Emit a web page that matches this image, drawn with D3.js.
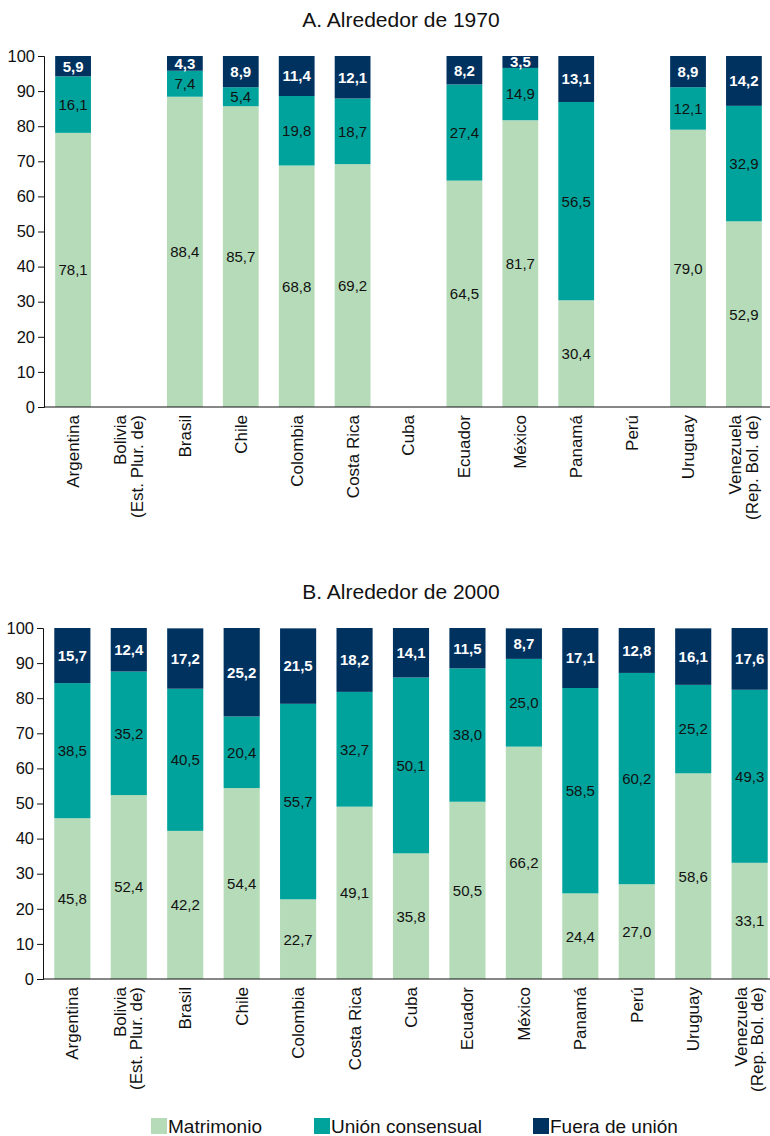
<!doctype html>
<meta charset="utf8">
<style>
  body { margin: 0; background: #fff; font-family: "Liberation Sans", Arial, sans-serif; }
  svg text { font-family: "Liberation Sans", Arial, sans-serif; }
</style>
<body>
<div id="chart"></div>
<script src="https://cdn.jsdelivr.net/npm/d3@7"></script>
<script>
(function() {

const countries = [
  ["Argentina"], ["Bolivia", "(Est. Plur. de)"], ["Brasil"], ["Chile"], ["Colombia"],
  ["Costa Rica"], ["Cuba"], ["Ecuador"], ["México"], ["Panamá"], ["Perú"], ["Uruguay"],
  ["Venezuela", "(Rep. Bol. de)"]
];
const seriesNames = ["Matrimonio", "Unión consensual", "Fuera de unión"];
const colors = ["#b5dbb8", "#00a39c", "#00325f"];
const yTicks = [0, 10, 20, 30, 40, 50, 60, 70, 80, 90, 100];

// null = no data for that country
const matrimonio1970 = [78.1, null, 88.4, 85.7, 68.8, 69.2, null, 64.5, 81.7, 30.4, null, 79.0, 52.9];
const consensual1970 = [16.1, null, 7.4, 5.4, 19.8, 18.7, null, 27.4, 14.9, 56.5, null, 12.1, 32.9];
const fuera1970 = [5.9, null, 4.3, 8.9, 11.4, 12.1, null, 8.2, 3.5, 13.1, null, 8.9, 14.2];

const matrimonio2000 = [45.8, 52.4, 42.2, 54.4, 22.7, 49.1, 35.8, 50.5, 66.2, 24.4, 27.0, 58.6, 33.1];
const consensual2000 = [38.5, 35.2, 40.5, 20.4, 55.7, 32.7, 50.1, 38.0, 25.0, 58.5, 60.2, 25.2, 49.3];
const fuera2000 = [15.7, 12.4, 17.2, 25.2, 21.5, 18.2, 14.1, 11.5, 8.7, 17.1, 12.8, 16.1, 17.6];

const W = 770, H = 1136;
const svg = d3.select("#chart").append("svg").attr("width", W).attr("height", H);
const fmt = v => v.toFixed(1).replace(".", ",");

function panel(title, top, left, right, series) {
  const y0 = top + 351, y1 = top;
  const x = d3.scaleBand().domain(d3.range(countries.length)).range([left, right]).paddingInner(0.36).paddingOuter(0.2);
  const y = d3.scaleLinear().domain([0, 100]).range([y0, y1]);
  const g = svg.append("g");

  g.append("text").attr("x", 401).attr("y", top - 29).attr("text-anchor", "middle")
    .attr("font-size", 21).attr("fill", "#111").text(title);

  const rows = countries.map((c, i) => ({ i, m: series[0][i], c: series[1][i], f: series[2][i] }))
    .filter(d => d.m != null);
  const stack = d3.stack().keys(["m", "c", "f"])(rows);

  stack.forEach((layer, k) => {
    const lg = g.append("g");
    lg.selectAll("rect").data(layer).join("rect")
      .attr("x", d => x(d.data.i))
      .attr("width", x.bandwidth())
      .attr("y", d => y(Math.min(d[1], 100)))
      .attr("height", d => y(d[0]) - y(Math.min(d[1], 100)))
      .attr("fill", colors[k]);
    lg.selectAll("text").data(layer).join("text")
      .attr("x", d => x(d.data.i) + x.bandwidth() / 2)
      .attr("y", d => y((d[0] + Math.min(d[1], 100)) / 2))
      .attr("dy", "0.36em")
      .attr("text-anchor", "middle")
      .attr("font-size", 15)
      .attr("font-weight", k === 2 ? "bold" : "normal")
      .attr("fill", k === 2 ? "#fff" : "#111")
      .text(d => fmt(d[1] - d[0]));
  });

  const yAxis = d3.axisLeft(y).tickValues(yTicks).tickSize(6).tickPadding(3);
  g.append("g").attr("transform", `translate(${left},0)`).call(yAxis)
    .call(a => a.selectAll("text").attr("font-size", 16.5).attr("fill", "#111"))
    .call(a => a.selectAll("line, path").attr("stroke", "#111"));

  g.append("line").attr("x1", left).attr("x2", W).attr("y1", y0).attr("y2", y0)
    .attr("stroke", "#111").attr("stroke-width", 1.2);

  countries.forEach((lines, i) => {
    const cx = x(i) + x.bandwidth() / 2;
    const n = lines.length;
    const t = g.append("text")
      .attr("transform", `translate(${cx},${y0 + 8}) rotate(-90)`)
      .attr("text-anchor", "end")
      .attr("font-size", 17)
      .attr("fill", "#111");
    lines.forEach((s, j) => {
      t.append("tspan").attr("x", 0)
        .attr("dy", j === 0 ? `${0.35 - (n - 1) * 0.5}em` : "0.95em")
        .text(s);
    });
  });
}

panel("A. Alrededor de 1970", 56, 44, 773, [matrimonio1970, consensual1970, fuera1970]);
panel("B. Alrededor de 2000", 628, 43, 779, [matrimonio2000, consensual2000, fuera2000]);

// legend
const legendX = [151, 314, 533];
const lg = svg.append("g");
seriesNames.forEach((name, k) => {
  lg.append("rect").attr("x", legendX[k]).attr("y", 1118).attr("width", 16).attr("height", 16).attr("fill", colors[k]);
  lg.append("text").attr("x", legendX[k] + 17).attr("y", 1133).attr("font-size", 19).attr("fill", "#111").text(name);
});

})();
</script>
</body>
